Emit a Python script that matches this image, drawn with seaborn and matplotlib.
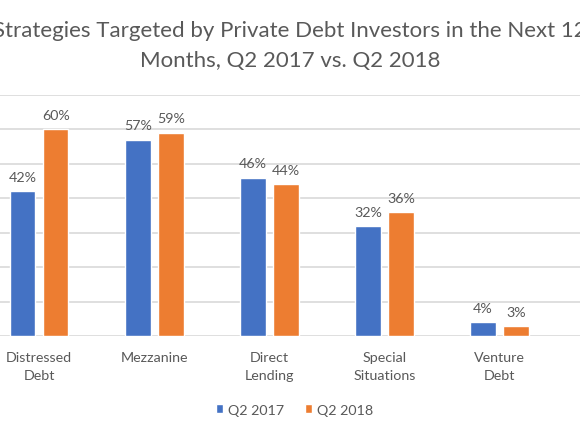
import numpy as np
import pandas as pd
import matplotlib
matplotlib.use("Agg")
import matplotlib.pyplot as plt
import seaborn as sns

strategies = ["Distressed\nDebt", "Mezzanine", "Direct\nLending",
              "Special\nSituations", "Venture\nDebt"]
periods = ["Q2 2017", "Q2 2018"]
q2_2017 = [42, 57, 46, 32, 4]
q2_2018 = [60, 59, 44, 36, 3]
title_lines = ["Strategies Targeted by Private Debt Investors in the Next 12",
               "Months, Q2 2017 vs. Q2 2018"]

BLUE = "#4472C4"
ORANGE = "#ED7D31"
GREY = "#595959"
GRID = "#D9D9D9"
FS = 10.3

df = pd.DataFrame({
    "strategy": strategies * 2,
    "period": [periods[0]] * len(strategies) + [periods[1]] * len(strategies),
    "value": q2_2017 + q2_2018,
})

sns.set_theme(style="white")
plt.rcParams["font.family"] = ["Lato", "DejaVu Sans"]

fig = plt.figure(figsize=(5.8, 4.35), dpi=100)
ax = fig.add_axes([0, 0.2246, 1, 0.5554])

sns.barplot(data=df, x="strategy", y="value", hue="period",
            palette=[BLUE, ORANGE], width=0.5736, gap=0.228,
            saturation=1, ax=ax, legend=True)

ax.set_xlim(-0.3406, 4.698)
ax.set_ylim(0, 70)
ax.set_yticks(np.arange(0, 71, 10))
ax.yaxis.grid(True, color=GRID, linewidth=1.2)
ax.set_axisbelow(True)
for s in ax.spines.values():
    s.set_visible(False)
ax.set_xlabel("")
ax.set_ylabel("")
ax.set_yticklabels([])
ax.tick_params(axis="y", length=0)
ax.tick_params(axis="x", length=0, pad=10.5, labelsize=FS, labelcolor=GREY)
for t in ax.get_xticklabels():
    t.set_linespacing(1.6)

for cont in ax.containers:
    ax.bar_label(cont, labels=[f"{v:.0f}%" for v in cont.datavalues],
                 padding=6, fontsize=FS, color=GREY)

handles, labels = ax.get_legend_handles_labels()
ax.legend(handles, labels, loc="center", bbox_to_anchor=(0.508, 0.056),
          bbox_transform=fig.transFigure, ncol=2, frameon=False,
          fontsize=FS, labelcolor=GREY, handlelength=0.55, handleheight=0.55,
          handletextpad=0.35, columnspacing=1.4)

fig.text(0.5, 1 - 36.7 / 435, title_lines[0], ha="center", va="baseline",
         fontsize=16, color=GREY)
fig.text(0.5, 1 - 67.3 / 435, title_lines[1], ha="center", va="baseline",
         fontsize=16, color=GREY)

fig.savefig("out.png", dpi=100, facecolor="white")
